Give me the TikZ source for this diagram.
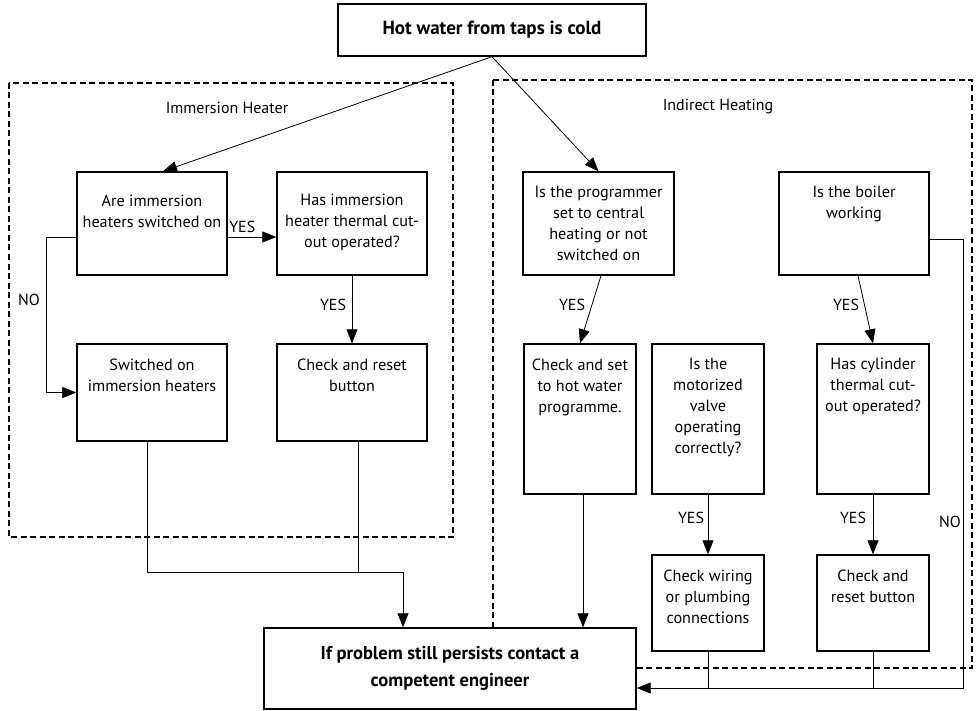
\documentclass[tikz,border=0pt]{standalone}
\usepackage{fontspec}
\setmainfont{PT Sans}
\usetikzlibrary{arrows.meta,calc}
\begin{document}
\begin{tikzpicture}[x=1pt,y=-1pt,
  box/.style={draw, line width=1.4pt, rectangle, inner sep=0pt, fill=white},
  btxt/.style={anchor=north, align=center, inner sep=0pt, yshift=-15pt, font=\fontsize{16.2}{21}\selectfont},
  conn/.style={line width=0.8pt},
  arr/.style={conn, -{Triangle[length=14pt,width=11pt]}},
  lbl/.style={font=\fontsize{16}{19}\selectfont, inner sep=0pt},
  grp/.style={draw, line width=1.3pt, dash pattern=on 6pt off 3.5pt}
]
\useasboundingbox (0,0) rectangle (979,711);

% group frames
\draw[grp] (9,83) rectangle (453,537);
\draw[grp] (493,80) rectangle (972,668);
\node[lbl] (gl) at (227,108) {Immersion Heater};
\node[lbl] (gr) at (718,107) {Indirect Heating};

% top and final
\node[box, minimum width=308pt, minimum height=52pt, font=\fontsize{19}{21}\bfseries\selectfont] (T) at (492,30) {Hot water from taps is cold};
\node[box, minimum width=372pt, minimum height=81pt, align=center, font=\fontsize{18.5}{27}\bfseries\selectfont] (F) at (450,668.5) {If problem still persists contact a\\competent engineer};

% immersion heater boxes
\node[box, minimum width=150pt, minimum height=103pt, label={[btxt, yshift=-8pt]north:{Are immersion\\heaters switched on}}] (A) at (152,223.5) {};
\node[box, minimum width=150pt, minimum height=103pt, label={[btxt, yshift=-8pt]north:{Has immersion\\heater thermal cut-\\out operated?}}] (B) at (352,223.5) {};
\node[box, minimum width=150pt, minimum height=97pt, label={[btxt]north:{Switched on\\immersion heaters}}] (C) at (152,392.5) {};
\node[box, minimum width=150pt, minimum height=97pt, label={[btxt]north:{Check and reset\\button}}] (D) at (352,392.5) {};

% indirect heating boxes
\node[box, minimum width=151pt, minimum height=103pt, label={[btxt]north:{Is the programmer\\set to central\\heating or not\\switched on}}] (P) at (598.5,223.5) {};
\node[box, minimum width=150pt, minimum height=103pt, label={[btxt]north:{Is the boiler\\working}}] (BW) at (854,223.5) {};
\node[box, minimum width=112pt, minimum height=150pt, label={[btxt]north:{Check and set\\to hot water\\programme.}}] (CS) at (580,419) {};
\node[box, minimum width=112pt, minimum height=150pt, label={[btxt]north:{Is the\\motorized\\valve\\operating\\correctly?}}] (MV) at (708,419) {};
\node[box, minimum width=112pt, minimum height=150pt, label={[btxt]north:{Has cylinder\\thermal cut-\\out operated?}}] (CY) at (873,419) {};
\node[box, minimum width=112pt, minimum height=96pt, label={[btxt]north:{Check wiring\\or plumbing\\connections}}] (CW) at (708,603) {};
\node[box, minimum width=112pt, minimum height=96pt, label={[btxt]north:{Check and\\reset button}}] (CR) at (873,603) {};

% connectors from top
\draw[arr] (T.south) -- ($(A.north)+(11,0)$);
\draw[arr] (T.south) -- (P.north);

% immersion side
\draw[arr] ([yshift=-13.5pt]A.east) -- node[lbl, above=4pt, pos=0.3] (y1) {YES} ([yshift=-13.5pt]B.west);
\draw[arr] ([yshift=-13.5pt]A.west) -- ++(-30,0) |- (C.west);
\node[lbl] (n1) at (29,300) {NO};
\draw[arr] (B.south) -- (D.north);
\node[lbl] (y2) at (333,305) {YES};
\coordinate (J) at (403,572);
\draw[conn] ([xshift=-5pt]C.south) |- (J);
\draw[conn] ([xshift=6pt]D.south) -- ([xshift=6pt]D.south |- J);
\draw[arr] (J) -- (J |- F.north);

% indirect side
\draw[arr] ([xshift=2.5pt]P.south) -- (CS.north);
\node[lbl] (y3) at (572,305) {YES};
\draw[arr] ([xshift=3pt]CS.south) -- ([xshift=3pt]CS.south |- F.north);
\draw[arr] ([xshift=4pt]BW.south) -- (CY.north);
\node[lbl] (y4) at (846,305) {YES};
\draw[arr] (MV.south) -- (CW.north);
\node[lbl] (y5) at (691,518) {YES};
\draw[arr] (CY.south) -- (CR.north);
\node[lbl] (y6) at (853,518) {YES};
\draw[arr] ([yshift=-15.5pt]BW.east) -- ++(34,0) |- ([yshift=-19.5pt]F.east);
\node[lbl] (n2) at (950,522) {NO};
\draw[conn] (CW.south) -- ++(0,37);
\draw[conn] (CR.south) -- ++(0,37);
\end{tikzpicture}
\end{document}
